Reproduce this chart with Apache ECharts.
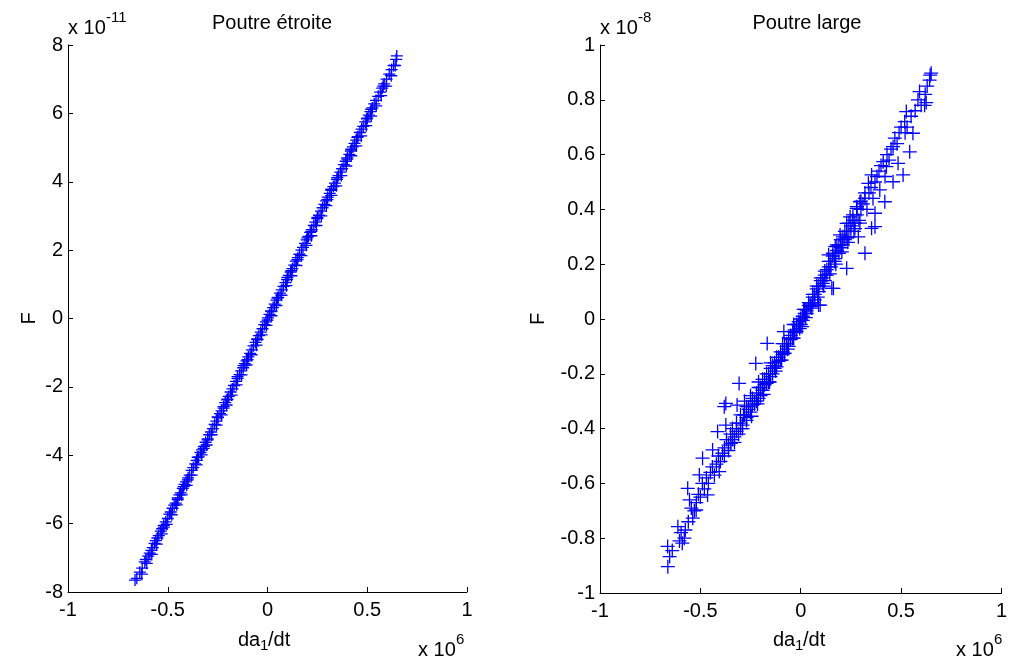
<!DOCTYPE html>
<html>
<head>
<meta charset="utf-8">
<script src="https://cdn.jsdelivr.net/npm/echarts@6/dist/echarts.min.js"></script>
<style>html,body{margin:0;padding:0;background:#fff;}#c{width:1010px;height:659px;}</style>
</head>
<body>
<div id="c"></div>
<script>
// ---- data (x in units of 1e6, F in units of 1e-11 / 1e-8) ----
const titles = ['Poutre étroite', 'Poutre large'];
const xTicks = [-1, -0.5, 0, 0.5, 1];
const yTicksNarrow = [-8, -6, -4, -2, 0, 2, 4, 6, 8];
const yTicksWide = [-1, -0.8, -0.6, -0.4, -0.2, 0, 0.2, 0.4, 0.6, 0.8, 1];

const narrowPoints = [
[-0.664,-7.65],[-0.655,-7.60],[-0.640,-7.42],[-0.628,-7.30],[-0.615,-7.12],[-0.610,-7.05],[-0.598,-6.95],[-0.590,-6.86],
[-0.582,-6.78],[-0.575,-6.70],[-0.566,-6.58],[-0.560,-6.50],[-0.552,-6.42],[-0.545,-6.35],[-0.535,-6.22],[-0.528,-6.15],
[-0.520,-6.05],[-0.510,-5.95],[-0.500,-5.85],[-0.492,-5.72],[-0.485,-5.66],[-0.476,-5.55],[-0.468,-5.46],[-0.460,-5.40],
[-0.450,-5.25],[-0.442,-5.16],[-0.435,-5.10],[-0.425,-4.97],[-0.416,-4.85],[-0.408,-4.78],[-0.398,-4.66],[-0.390,-4.58],
[-0.380,-4.44],[-0.372,-4.36],[-0.362,-4.25],[-0.355,-4.15],[-0.345,-4.05],[-0.336,-3.92],[-0.328,-3.84],[-0.318,-3.74],
[-0.310,-3.62],[-0.300,-3.52],[-0.292,-3.40],[-0.283,-3.32],[-0.274,-3.22],[-0.265,-3.10],[-0.256,-3.00],[-0.248,-2.90],
[-0.238,-2.78],[-0.230,-2.70],[-0.220,-2.58],[-0.212,-2.46],[-0.203,-2.38],[-0.194,-2.28],[-0.185,-2.15],[-0.176,-2.06],
[-0.168,-1.96],[-0.158,-1.84],[-0.150,-1.75],[-0.140,-1.64],[-0.132,-1.53],[-0.122,-1.44],[-0.114,-1.32],[-0.105,-1.24],
[-0.096,-1.12],[-0.087,-1.02],[-0.078,-0.92],[-0.070,-0.80],[-0.060,-0.70],[-0.052,-0.60],[-0.043,-0.50],[-0.034,-0.40],
[-0.025,-0.30],[-0.016,-0.18],[-0.008,-0.10],[0.002,0.02],[0.010,0.12],[0.018,0.22],[0.028,0.32],[0.036,0.42],
[0.045,0.54],[0.054,0.62],[0.063,0.74],[0.072,0.84],[0.080,0.94],[0.090,1.05],[0.098,1.14],[0.107,1.26],
[0.116,1.36],[0.125,1.46],[0.134,1.56],[0.142,1.68],[0.152,1.78],[0.160,1.88],[0.170,2.00],[0.178,2.08],
[0.188,2.20],[0.196,2.30],[0.205,2.40],[0.214,2.52],[0.222,2.60],[0.232,2.72],[0.240,2.82],[0.250,2.92],
[0.258,3.02],[0.268,3.14],[0.276,3.24],[0.285,3.34],[0.294,3.44],[0.302,3.55],[0.312,3.66],[0.320,3.75],
[0.330,3.86],[0.338,3.96],[0.348,4.07],[0.356,4.18],[0.365,4.28],[0.374,4.38],[0.383,4.50],[0.392,4.60],
[0.400,4.70],[0.410,4.80],[0.418,4.90],[0.428,5.02],[0.436,5.12],[0.445,5.22],[0.454,5.32],[0.463,5.44],
[0.472,5.54],[0.480,5.62],[0.490,5.75],[0.498,5.84],[0.508,5.95],[0.516,6.05],[0.526,6.16],[0.535,6.28],
[0.544,6.38],[0.555,6.50],[0.565,6.62],[0.575,6.74],[0.585,6.86],[0.597,7.00],[0.610,7.15],[0.622,7.28],
[0.632,7.40],[0.645,7.58],[0.648,7.68],
[-0.45,-5.30],[-0.40,-4.72],[-0.35,-4.06],[-0.30,-3.55],[-0.25,-2.88],[-0.20,-2.36],[-0.15,-1.70],[-0.10,-1.20],
[-0.05,-0.62],[0.00,-0.05],[0.05,0.60],[0.10,1.20],[0.15,1.72],[0.20,2.36],[0.25,2.96],[0.30,3.48],
[0.35,4.12],[0.40,4.66],[0.45,5.30],[0.50,5.86],[-0.22,-2.62],[-0.12,-1.38],[0.02,0.20],[0.12,1.40],
[0.22,2.55],[0.32,3.78],[0.42,4.95],[-0.32,-3.80],[-0.42,-4.92],[-0.52,-6.10],[0.52,6.12],[0.58,6.80],
[-0.630,-7.48],[-0.605,-7.16],[-0.580,-6.90],[-0.555,-6.60],[-0.530,-6.30],[-0.505,-6.02],[-0.480,-5.74],[-0.455,-5.45],
[-0.430,-5.16],[-0.405,-4.88],[-0.380,-4.58],[-0.355,-4.28],[-0.330,-3.99],[-0.305,-3.70],[-0.280,-3.40],[-0.255,-3.12],
[-0.230,-2.82],[-0.205,-2.53],[-0.180,-2.24],[-0.155,-1.94],[-0.130,-1.65],[-0.105,-1.36],[-0.080,-1.06],[-0.055,-0.78],
[-0.030,-0.48],[-0.005,-0.20],[0.020,0.08],[0.045,0.38],[0.070,0.68],[0.095,0.96],[0.120,1.25],[0.145,1.55],
[0.170,1.84],[0.195,2.14],[0.220,2.42],[0.245,2.72],[0.270,3.00],[0.295,3.30],[0.320,3.60],[0.345,3.88],
[0.370,4.18],[0.395,4.46],[0.420,4.76],[0.445,5.05],[0.470,5.34],[0.495,5.64],[0.520,5.92],[0.545,6.22],
[0.570,6.52],[0.595,6.80],[0.620,7.10],[0.640,7.40]
];

const widePoints = [
[-0.662,-0.904],[-0.653,-0.867],[-0.663,-0.830],[-0.640,-0.845],[-0.604,-0.810],[-0.596,-0.780],[-0.612,-0.758],[-0.590,-0.818],
[-0.580,-0.800],[-0.575,-0.770],[-0.560,-0.740],[-0.538,-0.727],[-0.554,-0.660],[-0.563,-0.618],[-0.545,-0.690],[-0.530,-0.700],
[-0.521,-0.697],[-0.520,-0.670],[-0.505,-0.569],[-0.510,-0.640],[-0.500,-0.650],[-0.489,-0.508],[-0.490,-0.600],[-0.480,-0.620],
[-0.464,-0.642],[-0.470,-0.580],[-0.460,-0.600],[-0.450,-0.560],[-0.439,-0.478],[-0.440,-0.540],[-0.430,-0.570],[-0.420,-0.530],
[-0.414,-0.411],[-0.406,-0.557],[-0.410,-0.500],[-0.400,-0.520],[-0.390,-0.490],[-0.373,-0.387],[-0.381,-0.320],[-0.380,-0.470],
[-0.373,-0.308],[-0.370,-0.440],[-0.360,-0.480],[-0.350,-0.420],[-0.348,-0.454],[-0.340,-0.400],[-0.330,-0.430],[-0.317,-0.314],
[-0.320,-0.380],[-0.307,-0.235],[-0.300,-0.400],[-0.290,-0.387],[-0.285,-0.350],[-0.280,-0.300],[-0.270,-0.360],[-0.260,-0.330],
[-0.241,-0.314],[-0.250,-0.280],[-0.224,-0.162],[-0.230,-0.300],[-0.220,-0.270],[-0.210,-0.250],[-0.200,-0.280],[-0.190,-0.220],
[-0.180,-0.240],[-0.167,-0.089],[-0.170,-0.200],[-0.160,-0.230],[-0.150,-0.180],[-0.140,-0.200],[-0.130,-0.160],[-0.120,-0.175],
[-0.110,-0.140],[-0.100,-0.150],[-0.084,-0.046],[-0.090,-0.120],[-0.080,-0.125],[-0.070,-0.090],[-0.060,-0.100],[-0.050,-0.060],
[-0.040,-0.070],[-0.030,-0.040],[-0.020,-0.045],[-0.010,-0.010],[0.000,-0.020],[0.007,-0.028],[0.010,0.010],[0.020,0.020],
[0.030,0.030],[0.040,0.050],[0.050,0.055],[0.060,0.080],[0.070,0.090],[0.080,0.110],[0.089,0.051],[0.090,0.120],
[0.097,0.051],[0.100,0.140],[0.110,0.150],[0.120,0.160],[0.130,0.180],[0.139,0.234],[0.140,0.190],[0.155,0.112],
[0.150,0.210],[0.163,0.112],[0.160,0.230],[0.172,0.264],[0.170,0.220],[0.180,0.250],[0.190,0.270],[0.196,0.307],
[0.200,0.260],[0.210,0.300],[0.220,0.290],[0.229,0.185],[0.229,0.349],[0.230,0.320],[0.240,0.300],[0.246,0.373],
[0.250,0.340],[0.260,0.360],[0.270,0.330],[0.279,0.404],[0.287,0.300],[0.280,0.380],[0.295,0.428],[0.290,0.360],
[0.300,0.400],[0.310,0.420],[0.320,0.240],[0.320,0.440],[0.330,0.400],[0.337,0.495],[0.340,0.460],[0.353,0.526],
[0.353,0.331],[0.350,0.480],[0.360,0.440],[0.370,0.337],[0.370,0.386],[0.370,0.500],[0.380,0.520],[0.394,0.471],
[0.390,0.540],[0.400,0.560],[0.411,0.574],[0.419,0.428],[0.420,0.520],[0.427,0.556],[0.430,0.600],[0.440,0.580],
[0.450,0.620],[0.460,0.501],[0.460,0.629],[0.469,0.660],[0.480,0.640],[0.485,0.568],[0.490,0.680],[0.500,0.700],
[0.510,0.526],[0.518,0.720],[0.526,0.757],[0.520,0.680],[0.530,0.700],[0.543,0.610],[0.550,0.740],[0.559,0.678],
[0.570,0.760],[0.584,0.800],[0.592,0.830],[0.600,0.780],[0.617,0.780],[0.625,0.790],[0.620,0.820],[0.630,0.850],
[0.642,0.872],[0.650,0.897],[0.645,0.890],
[-0.25,-0.34],[-0.23,-0.31],[-0.21,-0.29],[-0.19,-0.26],[-0.17,-0.235],[-0.15,-0.21],[-0.13,-0.18],[-0.11,-0.155],
[-0.09,-0.13],[-0.07,-0.10],[-0.05,-0.075],[-0.03,-0.05],[-0.01,-0.02],[0.01,-0.005],[0.03,0.02],[0.05,0.045],
[0.07,0.07],[0.09,0.10],[0.11,0.13],[0.13,0.16],[0.15,0.19],[0.17,0.21],[0.19,0.24],[0.21,0.27],
[0.23,0.295],[0.25,0.32],[0.27,0.35],[-0.27,-0.37],[-0.29,-0.40],[-0.31,-0.42],[-0.33,-0.45],[-0.035,-0.02],
[0.015,0.035],[0.06,0.06],[0.12,0.14],
[-0.26,-0.32],[-0.24,-0.29],[-0.22,-0.30],[-0.20,-0.25],[-0.18,-0.22],[-0.16,-0.20],[-0.14,-0.17],[-0.12,-0.14],
[-0.10,-0.12],[-0.08,-0.09],[-0.06,-0.07],[-0.04,-0.045],[-0.02,-0.02],[0.00,0.00],[0.02,0.035],[0.04,0.06],
[0.06,0.09],[0.08,0.12],[0.10,0.15],[0.12,0.175],[0.14,0.21],[0.16,0.24],[0.18,0.27],[0.20,0.29],
[0.22,0.32],[0.24,0.35],[0.26,0.38],[0.28,0.41],[0.30,0.43],[0.32,0.46],[-0.28,-0.35],[-0.30,-0.38],
[-0.32,-0.41],[-0.34,-0.44],[-0.36,-0.46],[-0.38,-0.50],
[-0.245,-0.355],[-0.215,-0.310],[-0.185,-0.275],[-0.155,-0.230],[-0.125,-0.190],[-0.095,-0.150],[-0.065,-0.110],[-0.035,-0.070],
[-0.005,-0.035],[0.025,0.005],[0.055,0.040],[0.085,0.080],[0.115,0.120],[0.145,0.165],[0.175,0.200],[0.205,0.245],
[0.235,0.280],[0.265,0.320],[0.295,0.350],[-0.300,-0.350],[-0.270,-0.320],[-0.210,-0.230],[-0.150,-0.160],[-0.090,-0.090]
];

// ---- chart ----
const FONT = 'Liberation Sans, Arial, Helvetica, sans-serif';
const FS = 20;
const chart = echarts.init(document.getElementById('c'), null, {renderer: 'canvas'});
const plus = 'path://M0,6L12,6M6,0L6,12';

function fmt(v) { return String(Number(v.toFixed(2))); }

function xAxis(gi) {
  return {
    type: 'value', gridIndex: gi, min: -1, max: 1, interval: 0.5,
    axisLine: {show: true, onZero: false, lineStyle: {color: '#000', width: 1}},
    axisTick: {show: true, inside: true, length: 5, lineStyle: {color: '#000'}},
    axisLabel: {color: '#000', fontFamily: FONT, fontSize: FS, margin: 8, formatter: fmt},
    splitLine: {show: false}
  };
}
function yAxis(gi, ticks) {
  const step = ticks[1] - ticks[0];
  return {
    type: 'value', gridIndex: gi, min: ticks[0], max: ticks[ticks.length - 1], interval: step,
    axisLine: {show: true, onZero: false, lineStyle: {color: '#000', width: 1}},
    axisTick: {show: true, inside: true, length: 5, lineStyle: {color: '#000'}},
    axisLabel: {color: '#000', fontFamily: FONT, fontSize: FS, margin: 5, formatter: fmt},
    splitLine: {show: false},
    name: 'F', nameLocation: 'middle', nameGap: gi === 0 ? 29 : 52, nameRotate: 90,
    nameTextStyle: {color: '#000', fontFamily: FONT, fontSize: FS}
  };
}

function expText(left, top, base, exp) {
  return {
    type: 'group', left: left, top: top,
    children: [
      {type: 'text', x: 0, y: 8, style: {text: base, font: FS + 'px ' + FONT, fill: '#000'}},
      {type: 'text', x: 38, y: 0, style: {text: exp, font: '15px ' + FONT, fill: '#000'}}
    ]
  };
}
function xName(cx, top) {
  return {
    type: 'group', left: cx, top: top,
    children: [
      {type: 'text', x: 0, y: 0, style: {text: 'da', font: FS + 'px ' + FONT, fill: '#000'}},
      {type: 'text', x: 22, y: 8, style: {text: '1', font: '15px ' + FONT, fill: '#000'}},
      {type: 'text', x: 30, y: 0, style: {text: '/dt', font: FS + 'px ' + FONT, fill: '#000'}}
    ]
  };
}

const markerStyle = {color: 'transparent', borderColor: '#0000ff', borderWidth: 1.3, opacity: 1};

chart.setOption({
  animation: false,
  backgroundColor: '#fff',
  title: [
    {text: titles[0], left: 267, top: 8, textAlign: 'center',
     textStyle: {fontFamily: FONT, fontSize: FS, fontWeight: 'normal', color: '#000'}},
    {text: titles[1], left: 802, top: 8, textAlign: 'center',
     textStyle: {fontFamily: FONT, fontSize: FS, fontWeight: 'normal', color: '#000'}}
  ],
  grid: [
    {left: 68, top: 45, width: 399, height: 547},
    {left: 600, top: 45, width: 404, height: 548}
  ],
  xAxis: [xAxis(0), xAxis(1)],
  yAxis: [yAxis(0, yTicksNarrow), yAxis(1, yTicksWide)],
  series: [
    {type: 'scatter', xAxisIndex: 0, yAxisIndex: 0, data: narrowPoints, symbol: plus, symbolSize: 12,
     itemStyle: markerStyle, emphasis: {disabled: true}},
    {type: 'scatter', xAxisIndex: 1, yAxisIndex: 1, data: widePoints, symbol: plus, symbolSize: 14,
     itemStyle: markerStyle, emphasis: {disabled: true}}
  ],
  graphic: [
    expText(68, 10, 'x 10', '-11'),
    expText(600, 10, 'x 10', '-8'),
    expText(418, 632, 'x 10', '6'),
    expText(956, 632, 'x 10', '6'),
    xName(238, 630),
    xName(773, 630)
  ]
});
</script>
</body>
</html>
